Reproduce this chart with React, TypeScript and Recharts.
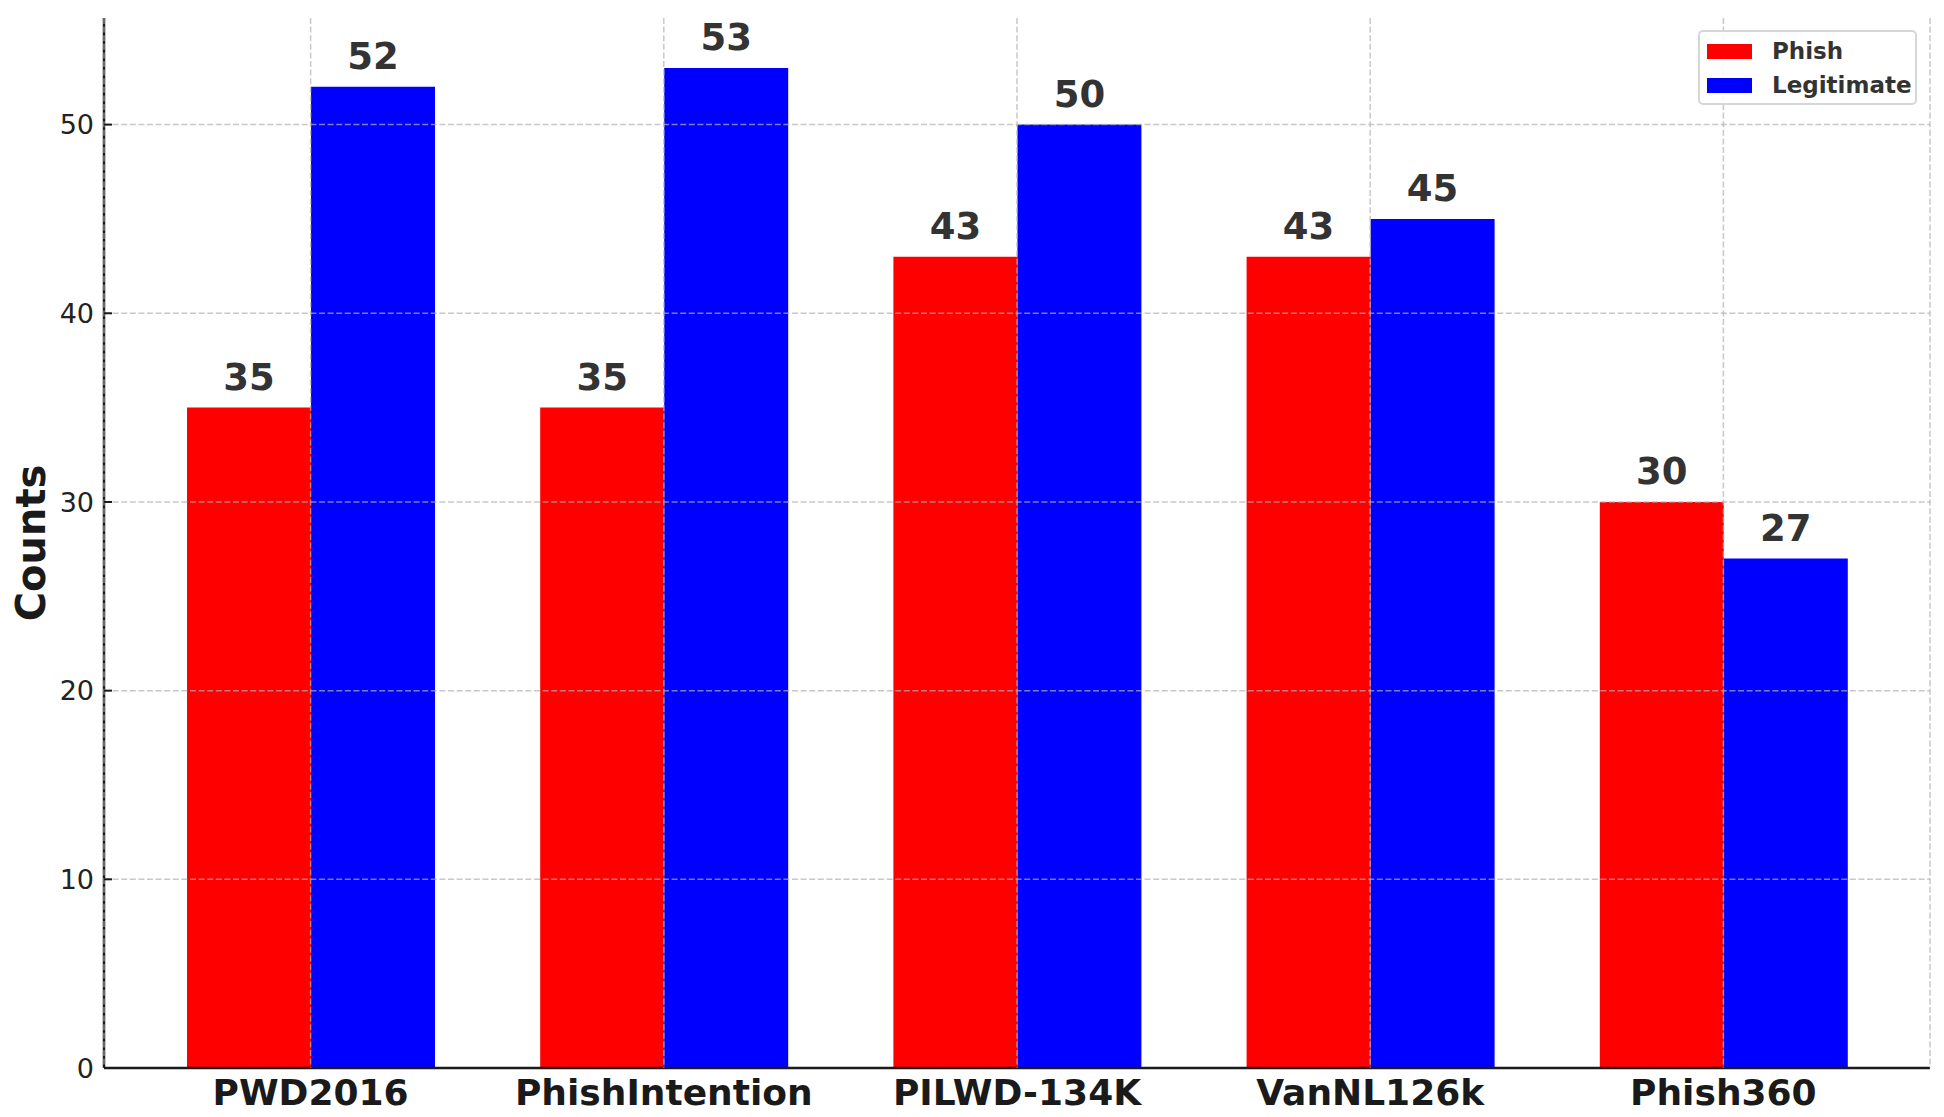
import React from 'react'
import { BarChart, Bar, XAxis, YAxis, CartesianGrid, LabelList } from 'recharts'

// ── Data ─────────────────────────────────────────────────────────────────────

const DATASETS = ['PWD2016', 'PhishIntention', 'PILWD-134K', 'VanNL126k', 'Phish360']
const PHISH = [35, 35, 43, 43, 30]
const LEGITIMATE = [52, 53, 50, 45, 27]
const Y_TICKS = [0, 10, 20, 30, 40, 50]

const SERIES = [
  { key: 'phish', name: 'Phish', color: '#ff0000' },
  { key: 'legit', name: 'Legitimate', color: '#0000ff' },
]

const data = DATASETS.map((name, i) => ({ name, phish: PHISH[i], legit: LEGITIMATE[i] }))

const FONT = '"DejaVu Sans", Verdana, sans-serif'
const W = 1944
const H = 1117
const PLOT_LEFT = 104

// ── Ticks / labels ───────────────────────────────────────────────────────────

// eslint-disable-next-line @typescript-eslint/no-explicit-any
const YTick = ({ x, y, payload }: any) => (
  <g>
    <line x1={PLOT_LEFT} x2={PLOT_LEFT + 8} y1={y} y2={y} stroke="#1a1a1a" strokeWidth={2} />
    <text x={x} y={y} dy="0.36em" textAnchor="end" fontFamily={FONT} fontSize={27} fill="#222">
      {payload.value}
    </text>
  </g>
)

// eslint-disable-next-line @typescript-eslint/no-explicit-any
const XTick = ({ x, y, payload }: any) => (
  <text x={x} y={y + 37} textAnchor="middle" fontFamily={FONT} fontSize={36} fontWeight="bold" fill="#1a1a1a">
    {payload.value}
  </text>
)

// eslint-disable-next-line @typescript-eslint/no-explicit-any
const ValueLabel = ({ x, y, width, value }: any) => (
  <text x={x + width / 2} y={y - 18} textAnchor="middle" fontFamily={FONT} fontSize={37} fontWeight="bold" fill="#333">
    {value}
  </text>
)

// eslint-disable-next-line @typescript-eslint/no-explicit-any
const YLabel = ({ viewBox }: any) => {
  const cy = viewBox.y + viewBox.height / 2
  return (
    <text
      x={45}
      y={cy}
      transform={`rotate(-90, 45, ${cy})`}
      textAnchor="middle"
      fontFamily={FONT}
      fontSize={40}
      fontWeight="bold"
      fill="#1a1a1a"
    >
      Counts
    </text>
  )
}

// ── Legend ───────────────────────────────────────────────────────────────────

function ChartLegend() {
  return (
    <div
      style={{
        position: 'absolute',
        left: 1698,
        top: 30,
        width: 219,
        height: 75,
        boxSizing: 'border-box',
        border: '2px solid #d6d6d6',
        borderRadius: 5,
        background: 'rgba(255,255,255,0.85)',
        fontFamily: FONT,
        fontWeight: 'bold',
        fontSize: 23,
        color: '#333',
      }}
    >
      {SERIES.map((s, i) => (
        <div
          key={s.key}
          style={{ position: 'absolute', left: 7, top: 5 + i * 34, height: 28, display: 'flex', alignItems: 'center' }}
        >
          <span style={{ display: 'inline-block', width: 45, height: 15, background: s.color }} />
          <span style={{ marginLeft: 20, lineHeight: '28px' }}>{s.name}</span>
        </div>
      ))}
    </div>
  )
}

// ── Chart ────────────────────────────────────────────────────────────────────

export default function App() {
  return (
    <div style={{ position: 'relative', width: W, height: H, background: '#fff' }}>
      <style>{`body { margin: 0; }`}</style>
      <BarChart
        width={W}
        height={H}
        data={data}
        margin={{ top: 18, right: 14, bottom: 0, left: 0 }}
        barGap={0}
      >
        <XAxis
          dataKey="name"
          height={49}
          padding={{ left: 30, right: 30 }}
          tickSize={0}
          tickMargin={0}
          tick={<XTick />}
          axisLine={{ stroke: '#1a1a1a', strokeWidth: 2.5 }}
          tickLine={false}
          interval={0}
        />
        <YAxis
          width={PLOT_LEFT}
          domain={[0, 55.65]}
          ticks={Y_TICKS}
          allowDataOverflow
          tickSize={0}
          tickMargin={10}
          tick={<YTick />}
          axisLine={{ stroke: '#1a1a1a', strokeWidth: 2.5 }}
          tickLine={false}
          label={<YLabel />}
        />
        {SERIES.map((s) => (
          <Bar key={s.key} dataKey={s.key} name={s.name} fill={s.color} barSize={124} isAnimationActive={false}>
            <LabelList dataKey={s.key} content={<ValueLabel />} />
          </Bar>
        ))}
        <CartesianGrid
          stroke="#b0b0b0"
          strokeOpacity={0.7}
          strokeWidth={1.5}
          strokeDasharray="6 2.6"
          horizontalValues={[10, 20, 30, 40, 50]}
          zIndex={600}
        />
      </BarChart>
      <ChartLegend />
    </div>
  )
}
